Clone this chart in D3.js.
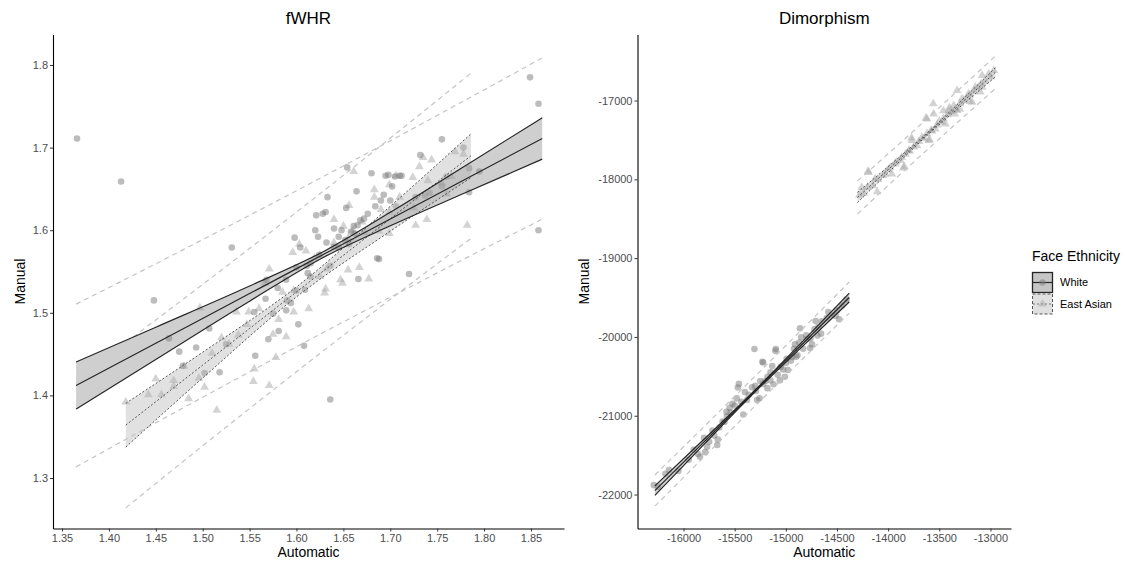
<!DOCTYPE html>
<html>
<head>
<meta charset="utf-8">
<script src="https://cdn.jsdelivr.net/npm/d3@7"></script>
<style>
  body { margin: 0; background: #fff; }
  text { font-family: "Liberation Sans", Arial, sans-serif; }
</style>
</head>
<body>
<svg width="1125" height="562"></svg>
<script>
// ---- fWHR panel: points [automatic, manual]
const fwhrWhite = [
  [1.366,1.711],[1.413,1.659],[1.448,1.515],[1.531,1.579],[1.464,1.469],[1.475,1.453],
  [1.479,1.436],[1.493,1.458],[1.502,1.427],[1.507,1.481],[1.518,1.428],[1.525,1.462],
  [1.556,1.448],[1.555,1.501],[1.567,1.517],[1.568,1.540],[1.570,1.468],[1.575,1.499],
  [1.581,1.478],[1.589,1.503],[1.594,1.512],[1.598,1.591],[1.600,1.527],[1.602,1.486],
  [1.604,1.579],[1.609,1.528],[1.608,1.460],[1.611,1.557],[1.615,1.544],[1.621,1.618],
  [1.623,1.592],[1.624,1.570],[1.628,1.620],[1.631,1.622],[1.633,1.640],[1.636,1.557],
  [1.636,1.395],[1.640,1.602],[1.645,1.579],[1.654,1.676],[1.653,1.627],[1.656,1.583],
  [1.661,1.605],[1.664,1.647],[1.666,1.541],[1.672,1.614],[1.680,1.669],[1.684,1.629],
  [1.686,1.566],[1.688,1.565],[1.693,1.643],[1.695,1.666],[1.698,1.667],[1.700,1.636],
  [1.702,1.653],[1.710,1.666],[1.720,1.547],[1.732,1.691],[1.737,1.642],[1.755,1.710],
  [1.778,1.700],[1.784,1.675],[1.784,1.646],[1.795,1.671],[1.849,1.785],[1.858,1.753],
  [1.858,1.600],[1.589,1.540],[1.615,1.560],[1.645,1.592],[1.662,1.596],[1.727,1.640],
  [1.706,1.629],[1.755,1.653],[1.620,1.600],[1.632,1.585],[1.648,1.600],[1.652,1.588],
  [1.658,1.598],[1.665,1.606],[1.668,1.612],[1.676,1.620],[1.690,1.636],[1.705,1.665],
  [1.712,1.666],[1.742,1.645],[1.760,1.665],[1.580,1.530],[1.590,1.515],[1.612,1.548],
  [1.640,1.580],[1.600,1.555]
];
const fwhrAsian = [
  [1.418,1.392],[1.442,1.401],[1.456,1.401],[1.469,1.411],[1.469,1.418],[1.485,1.396],
  [1.496,1.421],[1.502,1.410],[1.497,1.506],[1.515,1.382],[1.510,1.451],[1.528,1.462],
  [1.538,1.473],[1.547,1.486],[1.554,1.417],[1.555,1.432],[1.549,1.501],[1.571,1.412],
  [1.571,1.553],[1.578,1.446],[1.575,1.474],[1.581,1.492],[1.589,1.471],[1.597,1.501],
  [1.597,1.527],[1.603,1.583],[1.613,1.505],[1.619,1.566],[1.625,1.544],[1.630,1.524],
  [1.631,1.529],[1.632,1.553],[1.640,1.613],[1.647,1.540],[1.649,1.536],[1.650,1.605],
  [1.655,1.552],[1.656,1.630],[1.661,1.671],[1.667,1.555],[1.677,1.541],[1.683,1.649],
  [1.683,1.640],[1.688,1.599],[1.699,1.622],[1.699,1.596],[1.699,1.655],[1.706,1.666],
  [1.725,1.627],[1.731,1.677],[1.735,1.688],[1.727,1.606],[1.739,1.613],[1.744,1.685],
  [1.760,1.644],[1.769,1.695],[1.778,1.692],[1.782,1.606],[1.755,1.657],[1.724,1.664],
  [1.673,1.597],[1.596,1.573],[1.566,1.536],[1.536,1.501],[1.610,1.575],[1.625,1.570],
  [1.640,1.585],[1.655,1.590],[1.660,1.600],[1.670,1.610],[1.690,1.625],[1.710,1.640],
  [1.740,1.660],[1.765,1.665],[1.585,1.525],[1.560,1.505],[1.520,1.470],[1.480,1.435],
  [1.450,1.420]
];
// fitted line, confidence band and prediction interval
const fwhrWhiteX    = [1.365, 1.45, 1.55, 1.63, 1.70, 1.78, 1.862];
const fwhrWhiteFit  = [1.412, 1.4631, 1.5233, 1.5714, 1.6135, 1.6617, 1.711];
const fwhrWhiteLo   = [1.3835, 1.4436, 1.5141, 1.5679, 1.6053, 1.6453, 1.686];
const fwhrWhiteHi   = [1.4405, 1.4826, 1.5325, 1.5749, 1.6217, 1.6781, 1.736];
const fwhrWhitePiLo = [1.3135, 1.3668, 1.4285, 1.4770, 1.5188, 1.5659, 1.6134];
const fwhrWhitePiHi = [1.5105, 1.5594, 1.6181, 1.6658, 1.7082, 1.7575, 1.8086];
const fwhrAsianX    = [1.418, 1.50, 1.60, 1.70, 1.786];
const fwhrAsianFit  = [1.364, 1.4367, 1.5253, 1.6139, 1.6901];
const fwhrAsianLo   = [1.3375, 1.4211, 1.5193, 1.5988, 1.6636];
const fwhrAsianHi   = [1.3905, 1.4523, 1.5313, 1.6290, 1.7166];
const fwhrAsianPiLo = [1.264, 1.3390, 1.4287, 1.5163, 1.5901];
const fwhrAsianPiHi = [1.464, 1.5344, 1.6219, 1.7115, 1.7901];
const fwhrXTicks = [1.35, 1.40, 1.45, 1.50, 1.55, 1.60, 1.65, 1.70, 1.75, 1.80, 1.85];
const fwhrYTicks = [1.3, 1.4, 1.5, 1.6, 1.7, 1.8];

// ---- Dimorphism panel
const dimWhite = [
  [-16290,-21881],[-15858,-21485],[-15770,-21394],[-15671,-21371],[-15664,-21303],
  [-15618,-21075],[-15576,-21006],[-15522,-20847],[-15469,-20642],[-15459,-20596],
  [-15416,-20984],[-15363,-20733],[-15307,-20154],[-15257,-20778],[-15229,-20314],
  [-15222,-20596],[-15179,-20505],[-15133,-20368],[-15098,-20154],[-15059,-20551],
  [-15010,-20505],[-14992,-20277],[-14939,-20254],[-14910,-20095],[-14861,-19890],
  [-14850,-20004],[-14797,-20027],[-14744,-20095],[-14709,-19799],[-14691,-19982],
  [-14585,-19685],[-14408,-19525],[-16177,-21736],[-16141,-21690],[-15788,-21462],
  [-15717,-21189],[-15540,-20961],[-15434,-20824],[-15293,-20687],[-15151,-20551],
  [-15027,-20414],[-14886,-20232],[-14762,-20140],[-14656,-19958],[-14514,-19730],
  [-14479,-19776],[-15101,-20177],[-15222,-20325],
  [-16250,-21900],[-16050,-21700],[-15950,-21560],[-15900,-21430],[-15840,-21520],
  [-15800,-21280],[-15750,-21330],[-15700,-21250],[-15650,-21150],[-15600,-21080],
  [-15580,-20950],[-15550,-20900],[-15500,-20870],[-15480,-20780],[-15400,-20700],
  [-15380,-20800],[-15330,-20640],[-15300,-20620],[-15280,-20800],[-15250,-20560],
  [-15200,-20560],[-15180,-20650],[-15150,-20450],[-15120,-20600],[-15080,-20480],
  [-15050,-20380],[-15000,-20330],[-14980,-20420],[-14950,-20300],[-14920,-20150],
  [-14900,-20250],[-14870,-20070],[-14830,-20150],[-14800,-19980],[-14760,-20020],
  [-14720,-19900],[-14680,-19870],[-14650,-19800],[-14600,-19760],[-14550,-19720],
  [-14500,-19660],[-14450,-19600]
];
const dimAsian = [
  [-14192,-17911],[-13964,-17931],[-13849,-17855],[-13768,-17508],[-13621,-17233],
  [-13555,-17169],[-13326,-16873],[-13081,-16682],[-13604,-17508],[-13474,-17276],
  [-14030,-17931],[-14128,-17995],[-13866,-17720],[-13719,-17572],[-13670,-17466],
  [-13539,-17360],[-13408,-17127],[-13359,-17063],[-13277,-16978],[-13212,-16915],
  [-13147,-16831],[-13016,-16661],[-12967,-16619],[-13932,-17805],[-14258,-18102],
  [-13800,-17636],[-13572,-17385],[-13441,-17297],[-13326,-17127],[-13179,-17021],
  [-13081,-16831],[-14196,-17898],[-13630,-17223],[-13559,-17041],[-13595,-17497],
  [-13842,-17839],[-14107,-18158],[-13771,-17474],
  [-14280,-18200],[-14240,-18180],[-14200,-18100],[-14150,-18080],[-14100,-18000],
  [-14050,-17950],[-14000,-17880],[-13980,-17850],[-13920,-17780],[-13880,-17760],
  [-13830,-17680],[-13790,-17640],[-13750,-17590],[-13700,-17520],[-13650,-17480],
  [-13620,-17420],[-13580,-17380],[-13520,-17310],[-13500,-17260],[-13460,-17230],
  [-13420,-17180],[-13380,-17140],[-13340,-17110],[-13300,-17040],[-13260,-17000],
  [-13230,-16960],[-13200,-16930],[-13160,-16880],[-13120,-16840],[-13090,-16790],
  [-13050,-16750],[-13000,-16700],[-13400,-17090],[-13460,-17130],[-13350,-17170],
  [-13300,-17110],[-13200,-17010],[-13100,-16890]
];
const dimWhiteX    = [-16280, -15800, -15300, -14850, -14380];
const dimWhiteFit  = [-21950, -21331, -20686, -20106, -19500];
const dimWhiteLo   = [-22010, -21363, -20698, -20136, -19556];
const dimWhiteHi   = [-21890, -21299, -20674, -20076, -19444];
const dimWhitePiLo = [-22148, -21523, -20875, -20297, -19697];
const dimWhitePiHi = [-21752, -21139, -20497, -19915, -19303];
const dimAsianX    = [-14300, -13950, -13600, -13250, -12950];
const dimAsianFit  = [-18230, -17818, -17405, -16993, -16640];
const dimAsianLo   = [-18295, -17853, -17420, -17028, -16698];
const dimAsianHi   = [-18165, -17783, -17390, -16958, -16582];
const dimAsianPiLo = [-18440, -18018, -17603, -17193, -16847];
const dimAsianPiHi = [-18020, -17618, -17207, -16793, -16433];
const dimXTicks = [-16000, -15500, -15000, -14500, -14000, -13500, -13000];
const dimYTicks = [-22000, -21000, -20000, -19000, -18000, -17000];

const legendLabels = ["White", "East Asian"];

const svg = d3.select("svg");

function fitSet(xs, fit, lo, hi, piLo, piHi) {
  return xs.map((x, i) => ({x, fit: fit[i], lo: lo[i], hi: hi[i], piLo: piLo[i], piHi: piHi[i]}));
}

const panels = [
  {
    title: "fWHR", left: 53, right: 564, top: 34.5, bottom: 528.5,
    xDomain: [1.3404, 1.8852], yDomain: [1.2389, 1.8369],
    xTicks: fwhrXTicks, yTicks: fwhrYTicks, xFmt: d3.format(".2f"), yFmt: d3.format(".1f"),
    white: fwhrWhite, asian: fwhrAsian,
    whiteFit: fitSet(fwhrWhiteX, fwhrWhiteFit, fwhrWhiteLo, fwhrWhiteHi, fwhrWhitePiLo, fwhrWhitePiHi),
    asianFit: fitSet(fwhrAsianX, fwhrAsianFit, fwhrAsianLo, fwhrAsianHi, fwhrAsianPiLo, fwhrAsianPiHi),
    ylabX: 24.5
  },
  {
    title: "Dimorphism", left: 637.5, right: 1011, top: 34.5, bottom: 528.5,
    xDomain: [-16450, -12799], yDomain: [-22431, -16162],
    xTicks: dimXTicks, yTicks: dimYTicks, xFmt: d3.format("d"), yFmt: d3.format("d"),
    white: dimWhite, asian: dimAsian,
    whiteFit: fitSet(dimWhiteX, dimWhiteFit, dimWhiteLo, dimWhiteHi, dimWhitePiLo, dimWhitePiHi),
    asianFit: fitSet(dimAsianX, dimAsianFit, dimAsianLo, dimAsianHi, dimAsianPiLo, dimAsianPiHi),
    ylabX: 589
  }
];

const fmtMinus = s => s.replace("\u2212", "-");

panels.forEach(p => {
  const x = d3.scaleLinear().domain(p.xDomain).range([p.left, p.right]);
  const y = d3.scaleLinear().domain(p.yDomain).range([p.bottom, p.top]);
  const g = svg.append("g");

  // points
  g.append("g").selectAll("path")
    .data(p.asian)
    .enter().append("path")
      .attr("d", d3.symbol(d3.symbolTriangle, 34))
      .attr("transform", d => `translate(${x(d[0])},${y(d[1])})`)
      .attr("fill", "#a8a8a8")
      .attr("fill-opacity", 0.5);

  g.append("g").selectAll("circle")
    .data(p.white)
    .enter().append("circle")
      .attr("cx", d => x(d[0]))
      .attr("cy", d => y(d[1]))
      .attr("r", 3.3)
      .attr("fill", "#7a7a7a")
      .attr("fill-opacity", 0.5);

  const area = d3.area().x(d => x(d.x)).y0(d => y(d.lo)).y1(d => y(d.hi)).curve(d3.curveMonotoneX);
  const line = key => d3.line().x(d => x(d.x)).y(d => y(d[key])).curve(d3.curveMonotoneX);

  // confidence ribbons
  g.append("path").datum(p.whiteFit).attr("d", area)
    .attr("fill", "#8c8c8c").attr("fill-opacity", 0.42);
  g.append("path").datum(p.asianFit).attr("d", area)
    .attr("fill", "#b4b4b4").attr("fill-opacity", 0.4);

  // prediction intervals
  [p.whiteFit, p.asianFit].forEach(set => {
    ["piLo", "piHi"].forEach(k => {
      g.append("path").datum(set).attr("d", line(k))
        .attr("fill", "none").attr("stroke", "#c4c4c4")
        .attr("stroke-width", 1.2).attr("stroke-dasharray", "5,4");
    });
  });

  // fit lines
  ["lo", "fit", "hi"].forEach(k => {
    g.append("path").datum(p.asianFit).attr("d", line(k))
      .attr("fill", "none").attr("stroke", "#555")
      .attr("stroke-width", 1).attr("stroke-dasharray", "2,2");
  });
  ["lo", "fit", "hi"].forEach(k => {
    g.append("path").datum(p.whiteFit).attr("d", line(k))
      .attr("fill", "none").attr("stroke", "#262626")
      .attr("stroke-width", 1.2);
  });

  // axes
  const xAxis = g.append("g")
    .attr("transform", `translate(0,${p.bottom})`)
    .call(d3.axisBottom(x).tickValues(p.xTicks).tickFormat(d => fmtMinus(p.xFmt(d))).tickSize(3).tickSizeOuter(0));
  const yAxis = g.append("g")
    .attr("transform", `translate(${p.left},0)`)
    .call(d3.axisLeft(y).tickValues(p.yTicks).tickFormat(d => fmtMinus(p.yFmt(d))).tickSize(3).tickSizeOuter(0));
  [xAxis, yAxis].forEach(a => {
    a.select(".domain").attr("stroke", "#000").attr("stroke-width", 1.1);
    a.selectAll(".tick line").attr("stroke", "#333").attr("stroke-width", 1);
    a.selectAll(".tick text").attr("fill", "#4d4d4d").style("font-size", "11px")
      .style("font-family", "'Liberation Sans', Arial, sans-serif");
  });
  xAxis.selectAll(".tick text").attr("dy", "0.71em").attr("y", 6);
  yAxis.selectAll(".tick text").attr("x", -5);

  // titles
  g.append("text")
    .text(p.title)
    .attr("x", (p.left + p.right) / 2)
    .attr("y", 24)
    .style("text-anchor", "middle")
    .style("font-size", "17px");

  g.append("text")
    .text("Automatic")
    .attr("x", (p.left + p.right) / 2)
    .attr("y", 557)
    .style("text-anchor", "middle")
    .style("font-size", "14px");

  g.append("text")
    .text("Manual")
    .attr("transform", `translate(${p.ylabX},${(p.top + p.bottom) / 2}) rotate(-90)`)
    .style("text-anchor", "middle")
    .style("font-size", "14px");
});

// legend
const legend = svg.append("g").attr("transform", "translate(1032,0)");
legend.append("text")
  .text("Face Ethnicity")
  .attr("x", 0)
  .attr("y", 261)
  .style("font-size", "14px");

const keys = legend.selectAll("g.key")
  .data(legendLabels)
  .enter().append("g")
    .attr("class", "key")
    .attr("transform", (d, i) => `translate(0,${272 + i * 21.5})`);

keys.append("rect")
  .attr("x", 0.5).attr("y", 0.5)
  .attr("width", 20).attr("height", 20)
  .attr("fill", (d, i) => i === 0 ? "#c6c6c6" : "#e0e0e0")
  .attr("stroke", (d, i) => i === 0 ? "#262626" : "#555")
  .attr("stroke-width", (d, i) => i === 0 ? 1.3 : 1)
  .attr("stroke-dasharray", (d, i) => i === 0 ? null : "3,2");

keys.append("line")
  .attr("x1", 1).attr("x2", 20).attr("y1", 10.5).attr("y2", 10.5)
  .attr("stroke", (d, i) => i === 0 ? "#262626" : "#777")
  .attr("stroke-width", 1.2)
  .attr("stroke-dasharray", (d, i) => i === 0 ? null : "2,2");

keys.filter((d, i) => i === 0).append("circle")
  .attr("cx", 10.5).attr("cy", 10.5).attr("r", 3.2)
  .attr("fill", "#7a7a7a").attr("fill-opacity", 0.5);

keys.filter((d, i) => i === 1).append("path")
  .attr("d", d3.symbol(d3.symbolTriangle, 34))
  .attr("transform", "translate(10.5,10.5)")
  .attr("fill", "#a8a8a8").attr("fill-opacity", 0.5);

keys.append("text")
  .text(d => d)
  .attr("x", 28)
  .attr("y", 10.5)
  .attr("dy", "0.35em")
  .style("font-size", "11px");
</script>
</body>
</html>
